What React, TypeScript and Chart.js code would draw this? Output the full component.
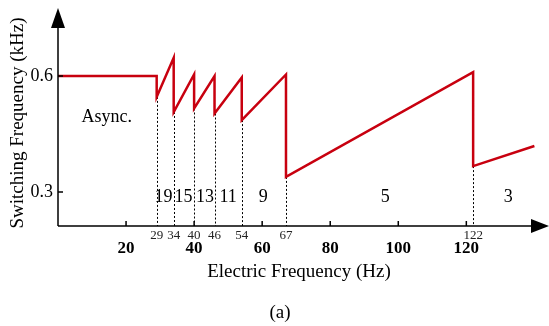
import React, { useEffect, useRef } from 'react';
import { Chart, registerables } from 'chart.js';
Chart.register(...registerables);

const freqHz = [0, 29, 29, 34, 34, 40, 40, 46, 46, 54, 54, 67, 67, 122, 122, 140];
const switchKHz = [0.6, 0.6, 0.546, 0.647, 0.507, 0.604, 0.516, 0.6, 0.503, 0.596, 0.486, 0.604, 0.339, 0.61, 0.367, 0.419];
const boundaryHz = [29, 34, 40, 46, 54, 67, 122];
const boundaryLow = [0.546, 0.507, 0.516, 0.503, 0.486, 0.339, 0.367];
const boundaryLabels = ['29', '34', '40', '46', '54', '67', '122'];
const pulseLabels = ['19', '15', '13', '11', '9', '5', '3'];
const pulseHz = [31, 36.9, 43.2, 50, 60.3, 96.2, 132.3];
const pulseLevel = 0.287;
const asyncLabel = 'Async.';
const asyncPos = [14.3, 0.494];
const xTicks = [20, 40, 60, 80, 100, 120];
const yTicks = [0.3, 0.6];
const xTitle = 'Electric Frequency (Hz)';
const yTitle = 'Switching Frequency (kHz)';
const caption = '(a)';

const FONT = "'Liberation Serif', 'Times New Roman', serif";

const overlay = {
  id: 'overlay',
  beforeDatasetsDraw(chart: any) {
    const ctx = chart.ctx;
    const xs = chart.scales.x;
    const ys = chart.scales.y;
    const base = chart.chartArea.bottom;
    ctx.save();
    ctx.strokeStyle = '#000';
    ctx.lineWidth = 1;
    ctx.setLineDash([2, 2]);
    boundaryHz.forEach((v, i) => {
      const px = Math.round(xs.getPixelForValue(v)) + 0.5;
      ctx.beginPath();
      ctx.moveTo(px, ys.getPixelForValue(boundaryLow[i]));
      ctx.lineTo(px, base);
      ctx.stroke();
    });
    ctx.restore();
  },
  afterDraw(chart: any) {
    const ctx = chart.ctx;
    const xs = chart.scales.x;
    const ys = chart.scales.y;
    const { left, top, bottom } = chart.chartArea;
    ctx.save();
    ctx.strokeStyle = '#000';
    ctx.fillStyle = '#000';
    ctx.lineWidth = 1.5;
    // axes
    ctx.beginPath();
    ctx.moveTo(left, bottom);
    ctx.lineTo(549 - 12, bottom);
    ctx.moveTo(left, bottom);
    ctx.lineTo(left, top + 12);
    ctx.stroke();
    // arrows
    ctx.beginPath();
    ctx.moveTo(549, bottom);
    ctx.lineTo(549 - 18, bottom - 7);
    ctx.lineTo(549 - 18, bottom + 7);
    ctx.closePath();
    ctx.fill();
    ctx.beginPath();
    ctx.moveTo(left, top);
    ctx.lineTo(left - 7, top + 20);
    ctx.lineTo(left + 7, top + 20);
    ctx.closePath();
    ctx.fill();
    // inner ticks
    ctx.lineWidth = 1.5;
    ctx.beginPath();
    xTicks.forEach((v) => {
      const px = xs.getPixelForValue(v);
      ctx.moveTo(px, bottom);
      ctx.lineTo(px, bottom - 5);
    });
    yTicks.forEach((v) => {
      const py = ys.getPixelForValue(v);
      ctx.moveTo(left, py);
      ctx.lineTo(left + 5, py);
    });
    ctx.stroke();
    // boundary labels
    ctx.fillStyle = '#222';
    ctx.font = `13px ${FONT}`;
    ctx.textAlign = 'center';
    ctx.textBaseline = 'top';
    boundaryHz.forEach((v, i) => {
      ctx.fillText(boundaryLabels[i], xs.getPixelForValue(v), bottom + 3);
    });
    // pulse labels
    ctx.fillStyle = '#000';
    ctx.font = `18px ${FONT}`;
    ctx.textBaseline = 'middle';
    pulseLabels.forEach((t, i) => {
      ctx.fillText(t, xs.getPixelForValue(pulseHz[i]), ys.getPixelForValue(pulseLevel));
    });
    ctx.fillText(asyncLabel, xs.getPixelForValue(asyncPos[0]), ys.getPixelForValue(asyncPos[1]));
    // titles
    ctx.font = `19px ${FONT}`;
    ctx.fillText(xTitle, 299, 272);
    ctx.fillText(caption, 280, 313);
    ctx.save();
    ctx.translate(18, 123);
    ctx.rotate(-Math.PI / 2);
    ctx.fillText(yTitle, 0, 0);
    ctx.restore();
    ctx.restore();
  },
};

export default function App() {
  const ref = useRef<HTMLCanvasElement>(null);
  useEffect(() => {
    if (!ref.current) return;
    const chart = new Chart(ref.current, {
      type: 'line',
      data: {
        datasets: [
          {
            data: freqHz.map((x, i) => ({ x, y: switchKHz[i] })),
            borderColor: '#c8000f',
            borderWidth: 2.5,
            pointRadius: 0,
            tension: 0,
            fill: false,
          },
        ],
      },
      options: {
        animation: false,
        responsive: false,
        events: [],
        layout: { padding: { top: 8, right: 1, left: 0, bottom: 0 } },
        plugins: { legend: { display: false }, tooltip: { enabled: false } },
        scales: {
          x: {
            type: 'linear',
            min: 0,
            max: 144,
            afterBuildTicks: (s: any) => {
              s.ticks = xTicks.map((v) => ({ value: v }));
            },
            afterFit: (s: any) => {
              s.height = 100;
              s.paddingLeft = 0;
              s.paddingRight = 0;
            },
            ticks: {
              autoSkip: false,
              maxRotation: 0,
              padding: 12,
              color: '#000',
              font: { family: FONT, size: 17, weight: 'bold' },
            },
            grid: { display: false, drawTicks: false },
            border: { display: false },
          },
          y: {
            type: 'linear',
            min: 0.212,
            max: 0.776,
            afterBuildTicks: (s: any) => {
              s.ticks = yTicks.map((v) => ({ value: v }));
            },
            afterFit: (s: any) => {
              s.width = 58;
              s.paddingTop = 0;
              s.paddingBottom = 0;
            },
            ticks: {
              padding: 5,
              color: '#000',
              callback: (v: any) => Number(v).toFixed(1),
              font: { family: FONT, size: 18 },
            },
            grid: { display: false, drawTicks: false },
            border: { display: false },
          },
        },
      },
      plugins: [overlay],
    });
    return () => chart.destroy();
  }, []);
  return (
    <div style={{ position: 'fixed', left: 0, top: 0, width: 549, height: 326, background: '#fff' }}>
      <canvas ref={ref} width={549} height={326} />
    </div>
  );
}
